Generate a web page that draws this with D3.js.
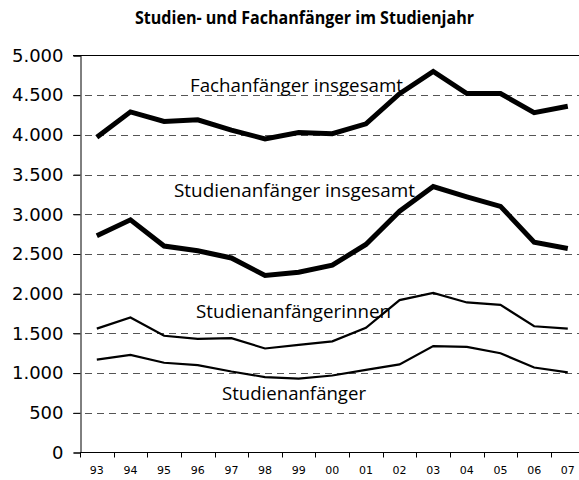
<!DOCTYPE html>
<html><head><meta charset="utf-8">
<script src="https://cdn.jsdelivr.net/npm/d3@7"></script>
<style>body{margin:0;background:#fff}svg{display:block}</style>
</head><body><svg id="c" width="579" height="480"></svg>
<script>
const years = ["93","94","95","96","97","98","99","00","01","02","03","04","05","06","07"];
const fachGesamt = [3970,4290,4170,4190,4060,3950,4030,4015,4140,4520,4800,4520,4520,4280,4360];
const studGesamt = [2730,2930,2600,2540,2450,2230,2270,2360,2620,3040,3350,3220,3100,2650,2570];
const studInnen = [1560,1700,1470,1430,1440,1310,1355,1400,1570,1920,2010,1890,1860,1590,1560];
const studAnf = [1170,1230,1130,1100,1020,950,930,970,1040,1110,1340,1330,1250,1070,1010];
const yTicks = [0,500,1000,1500,2000,2500,3000,3500,4000,4500,5000];
const title = "Studien- und Fachanfänger im Studienjahr";

(function(){
const svg = d3.select("#c");
const mLeft = 80, mTop = 55.5, mBottom = 452.5, bandW = 33.64;
const x = d3.scaleBand().domain(years).range([mLeft, mLeft + bandW * years.length]).padding(0);
const y = d3.scaleLinear().domain([0,5000]).range([mBottom, mTop]);
const fmt = v => d3.format(",")(v).replace(/,/g, ".");

svg.append("text").attr("x", 304.5).attr("y", 24).attr("text-anchor","middle")
  .attr("font-family","Open Sans").attr("font-weight","bold").attr("font-size",18.5)
  .attr("textLength", 339).attr("lengthAdjust","spacingAndGlyphs")
  .text(title);

svg.append("g").selectAll("line").data(yTicks.filter(d => d > 0 && d < 5000)).join("line")
  .attr("x1", mLeft - 7).attr("x2", 579).attr("y1", d => Math.round(y(d)) + 0.5).attr("y2", d => Math.round(y(d)) + 0.5)
  .attr("stroke", "#555").attr("stroke-dasharray", "7,5").attr("stroke-width", 1);
svg.append("line").attr("x1", mLeft - 7).attr("x2", 579).attr("y1", y(5000)).attr("y2", y(5000))
  .attr("stroke", "#000").attr("stroke-width", 1);

const yAxis = svg.append("g").attr("transform", `translate(${mLeft+0.5},0)`)
  .call(d3.axisLeft(y).tickValues(yTicks).tickFormat(fmt).tickSize(7).tickPadding(10));
yAxis.select(".domain").attr("stroke","#000");
yAxis.selectAll("text").attr("font-family","DejaVu Sans").attr("font-size",18).attr("fill","#000");

const xAxis = svg.append("g").attr("transform", `translate(0,${mBottom})`)
  .call(d3.axisBottom(x).tickSize(0).tickPadding(14));
xAxis.select(".domain").remove();
xAxis.selectAll("text").attr("font-family","DejaVu Sans").attr("font-size",11).attr("fill","#000");
svg.append("line").attr("x1", mLeft).attr("x2", 579).attr("y1", mBottom).attr("y2", mBottom).attr("stroke","#000");
svg.append("g").selectAll("line").data(years).join("line")
  .attr("x1", d => Math.round(x(d)) + 0.5).attr("x2", d => Math.round(x(d)) + 0.5)
  .attr("y1", mBottom).attr("y2", mBottom + 5).attr("stroke","#000");

const line = d3.line().x((d,i) => x(years[i]) + x.bandwidth()/2).y(d => y(d));
const series = [
  {v: fachGesamt, w: 5},
  {v: studGesamt, w: 5},
  {v: studInnen, w: 2.2},
  {v: studAnf, w: 2.2}
];
svg.append("g").selectAll("path").data(series).join("path")
  .attr("d", d => line(d.v)).attr("fill","none").attr("stroke","#000")
  .attr("stroke-width", d => d.w).attr("stroke-linejoin","miter");

const labels = [
  {t:"Fachanfänger insgesamt", x:296.5, y:92, w:213},
  {t:"Studienanfänger insgesamt", x:294.5, y:197, w:241},
  {t:"Studienanfängerinnen", x:293.5, y:318, w:195},
  {t:"Studienanfänger", x:294, y:400, w:144}
];
svg.append("g").selectAll("text").data(labels).join("text")
  .attr("x", d => d.x).attr("y", d => d.y).attr("text-anchor","middle")
  .attr("font-family","Open Sans").attr("font-size",18.5).attr("fill","#000")
  .attr("textLength", d => d.w).attr("lengthAdjust","spacingAndGlyphs")
  .text(d => d.t);
})();
</script></body></html>
